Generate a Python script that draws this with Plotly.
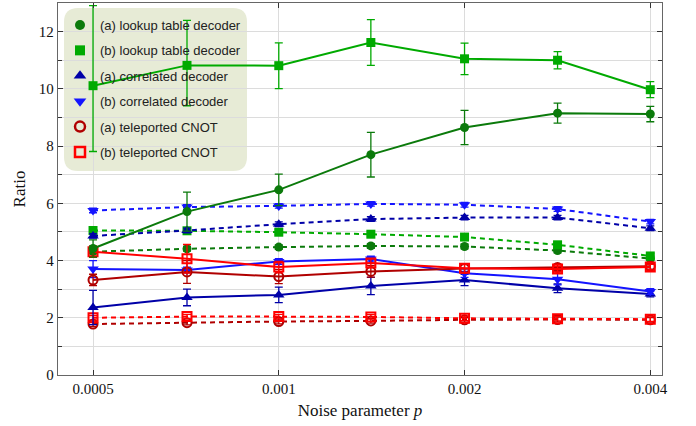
import plotly.graph_objects as go
import math

# ---------------- data ----------------
noise_p = [0.0005, 0.00071, 0.001, 0.00141, 0.002, 0.00283, 0.004]
x_tick_vals = [0.0005, 0.001, 0.002, 0.004]
x_tick_text = ["0.0005", "0.001", "0.002", "0.004"]
y_tick_vals = [0, 2, 4, 6, 8, 10, 12]

lookup_a_solid = [4.42, 5.71, 6.47, 7.70, 8.65, 9.15, 9.12]
lookup_a_solid_err = [0.30, 0.68, 0.55, 0.78, 0.60, 0.35, 0.27]
lookup_a_dash = [4.31, 4.41, 4.47, 4.51, 4.49, 4.35, 4.07]
lookup_a_dash_err = [0.08, 0.08, 0.08, 0.08, 0.08, 0.08, 0.08]

lookup_b_solid = [10.11, 10.82, 10.81, 11.62, 11.05, 11.00, 9.97]
lookup_b_solid_err_plus = [2.80, 1.57, 0.80, 0.80, 0.55, 0.30, 0.28]
lookup_b_solid_err_minus = [2.30, 1.41, 0.80, 0.80, 0.55, 0.30, 0.28]
lookup_b_dash = [5.05, 5.04, 4.99, 4.92, 4.82, 4.55, 4.16]
lookup_b_dash_err = [0.08, 0.08, 0.08, 0.08, 0.08, 0.08, 0.08]

corr_a_solid = [2.36, 2.71, 2.80, 3.11, 3.32, 3.03, 2.83]
corr_a_solid_err = [0.60, 0.29, 0.27, 0.30, 0.20, 0.15, 0.10]
corr_a_dash = [4.86, 5.05, 5.27, 5.45, 5.50, 5.50, 5.13]
corr_a_dash_err = [0.08, 0.08, 0.08, 0.08, 0.08, 0.08, 0.08]

corr_b_solid = [3.70, 3.67, 3.97, 4.05, 3.56, 3.35, 2.92]
corr_b_solid_err = [0.30, 0.10, 0.10, 0.10, 0.15, 0.20, 0.10]
corr_b_dash = [5.75, 5.87, 5.91, 5.98, 5.95, 5.80, 5.36]
corr_b_dash_err = [0.08, 0.08, 0.08, 0.08, 0.08, 0.08, 0.08]

tele_a_solid = [3.32, 3.60, 3.44, 3.62, 3.72, 3.76, 3.80]
tele_a_solid_err = [0.20, 0.40, 0.25, 0.20, 0.15, 0.10, 0.10]
tele_a_dash = [1.78, 1.83, 1.87, 1.89, 1.93, 1.94, 1.93]
tele_a_dash_err = [0.08, 0.08, 0.08, 0.08, 0.08, 0.08, 0.08]

tele_b_solid = [4.31, 4.06, 3.77, 3.91, 3.73, 3.70, 3.77]
tele_b_solid_err = [0.20, 0.50, 0.20, 0.15, 0.15, 0.10, 0.10]
tele_b_dash = [2.00, 2.04, 2.04, 2.03, 1.98, 1.97, 1.95]
tele_b_dash_err = [0.08, 0.08, 0.08, 0.08, 0.08, 0.08, 0.08]

legend_names = ["(a) lookup table decoder", "(b) lookup table decoder",
                "(a) correlated decoder", "(b) correlated decoder",
                "(a) teleported CNOT", "(b) teleported CNOT"]

# ---------------- styles ----------------
C_LA = "#0b7a0b"
C_LB = "#00aa00"
C_CA = "#0000a8"
C_CB = "#1414ff"
C_TA = "#b00000"
C_TB = "#ff0000"

styles = [
    dict(color=C_LA, symbol="circle", size=9, open=False),
    dict(color=C_LB, symbol="square", size=9, open=False),
    dict(color=C_CA, symbol="triangle-up", size=10, open=False),
    dict(color=C_CB, symbol="triangle-down", size=10, open=False),
    dict(color=C_TA, symbol="circle-open", size=9, open=True),
    dict(color=C_TB, symbol="square-open", size=9, open=True),
]

DASH = "5px,4px"

fig = go.Figure()


def add_series(y, st, dash, err_plus, err_minus=None):
    ey = dict(type="data", array=err_plus, color=st["color"], thickness=1.3, width=4, visible=True)
    if err_minus is not None:
        ey["symmetric"] = False
        ey["arrayminus"] = err_minus
    marker = dict(symbol=st["symbol"], size=st["size"], color=st["color"])
    if st["open"]:
        marker["line"] = dict(color=st["color"], width=2)
    else:
        marker["line"] = dict(width=0)
    fig.add_trace(go.Scatter(
        x=noise_p, y=y, mode="lines+markers",
        line=dict(color=st["color"], width=2, dash=dash),
        marker=marker, error_y=ey, showlegend=False, hoverinfo="skip"))


add_series(lookup_a_dash, styles[0], DASH, lookup_a_dash_err)
add_series(lookup_b_dash, styles[1], DASH, lookup_b_dash_err)
add_series(corr_a_dash, styles[2], DASH, corr_a_dash_err)
add_series(corr_b_dash, styles[3], DASH, corr_b_dash_err)
add_series(tele_a_dash, styles[4], DASH, tele_a_dash_err)
add_series(tele_b_dash, styles[5], DASH, tele_b_dash_err)

add_series(corr_a_solid, styles[2], "solid", corr_a_solid_err)
add_series(corr_b_solid, styles[3], "solid", corr_b_solid_err)
add_series(tele_a_solid, styles[4], "solid", tele_a_solid_err)
add_series(tele_b_solid, styles[5], "solid", tele_b_solid_err)
add_series(lookup_a_solid, styles[0], "solid", lookup_a_solid_err)
add_series(lookup_b_solid, styles[1], "solid", lookup_b_solid_err_plus, lookup_b_solid_err_minus)

# legend-only entries (markers only)
for i, (name, st) in enumerate(zip(legend_names, styles)):
    marker = dict(symbol=st["symbol"], size=st["size"] + 1, color=st["color"])
    if st["open"]:
        marker["line"] = dict(color=st["color"], width=2.5)
    fig.add_trace(go.Scatter(x=[None], y=[None], mode="markers", name=name,
                             marker=marker, legendgroup=f"g{i}", showlegend=True))

# ---------------- layout ----------------
L, R, T, B = 58, 34, 3, 51
W, H = 696, 426
pw, ph = W - L - R, H - T - B


def px_to_paper(px, py):
    return (px - L) / pw, (H - B - py) / ph


# rounded legend background
x0, y1 = px_to_paper(64, 8)
x1, y0 = px_to_paper(247, 171)
rx, ry = 14 / pw, 14 / ph
path = (f"M {x0+rx},{y0} L {x1-rx},{y0} Q {x1},{y0} {x1},{y0+ry} "
        f"L {x1},{y1-ry} Q {x1},{y1} {x1-rx},{y1} L {x0+rx},{y1} "
        f"Q {x0},{y1} {x0},{y1-ry} L {x0},{y0+ry} Q {x0},{y0} {x0+rx},{y0} Z")
fig.add_shape(type="path", path=path, xref="paper", yref="paper",
              fillcolor="#e7ebd6", line=dict(width=0), layer="below")

axis_common = dict(
    showline=True, linecolor="#666666", linewidth=1.3, mirror="ticks",
    ticks="inside", ticklen=5, tickcolor="#333333", tickwidth=1,
    gridcolor="#dcdcdc", gridwidth=1, zeroline=False,
    tickfont=dict(family="Liberation Serif", size=15, color="#111111"),
)

fig.update_xaxes(
    type="log",
    range=[math.log10(0.0005) - 35 / 616.5, math.log10(0.004) + 11.7 / 616.5],
    tickvals=x_tick_vals, ticktext=x_tick_text,
    title=dict(text="Noise parameter <i>p</i>", standoff=7,
               font=dict(family="Liberation Serif", size=17, color="#111111")),
    **axis_common,
)
fig.update_yaxes(
    range=[0, 13],
    tickvals=y_tick_vals,
    minor=dict(dtick=1, showgrid=True, gridcolor="#dcdcdc", ticks="inside", ticklen=4,
               tickcolor="#333333"),
    title=dict(text="Ratio", standoff=8,
               font=dict(family="Liberation Serif", size=17, color="#111111")),
    **axis_common,
)

lx, ly = px_to_paper(60, 10)
fig.update_layout(
    width=W, height=H,
    margin=dict(l=L, r=R, t=T, b=B),
    plot_bgcolor="white", paper_bgcolor="white",
    legend=dict(x=lx, y=ly, xanchor="left", yanchor="top",
                bgcolor="rgba(0,0,0,0)", borderwidth=0,
                font=dict(family="Liberation Sans", size=13, color="#222222"),
                tracegroupgap=5.5, itemwidth=30),
    showlegend=True,
)

fig.write_html("out.html", config={"displayModeBar": False},
               post_script="document.body.style.margin='0';document.body.style.padding='0';")
